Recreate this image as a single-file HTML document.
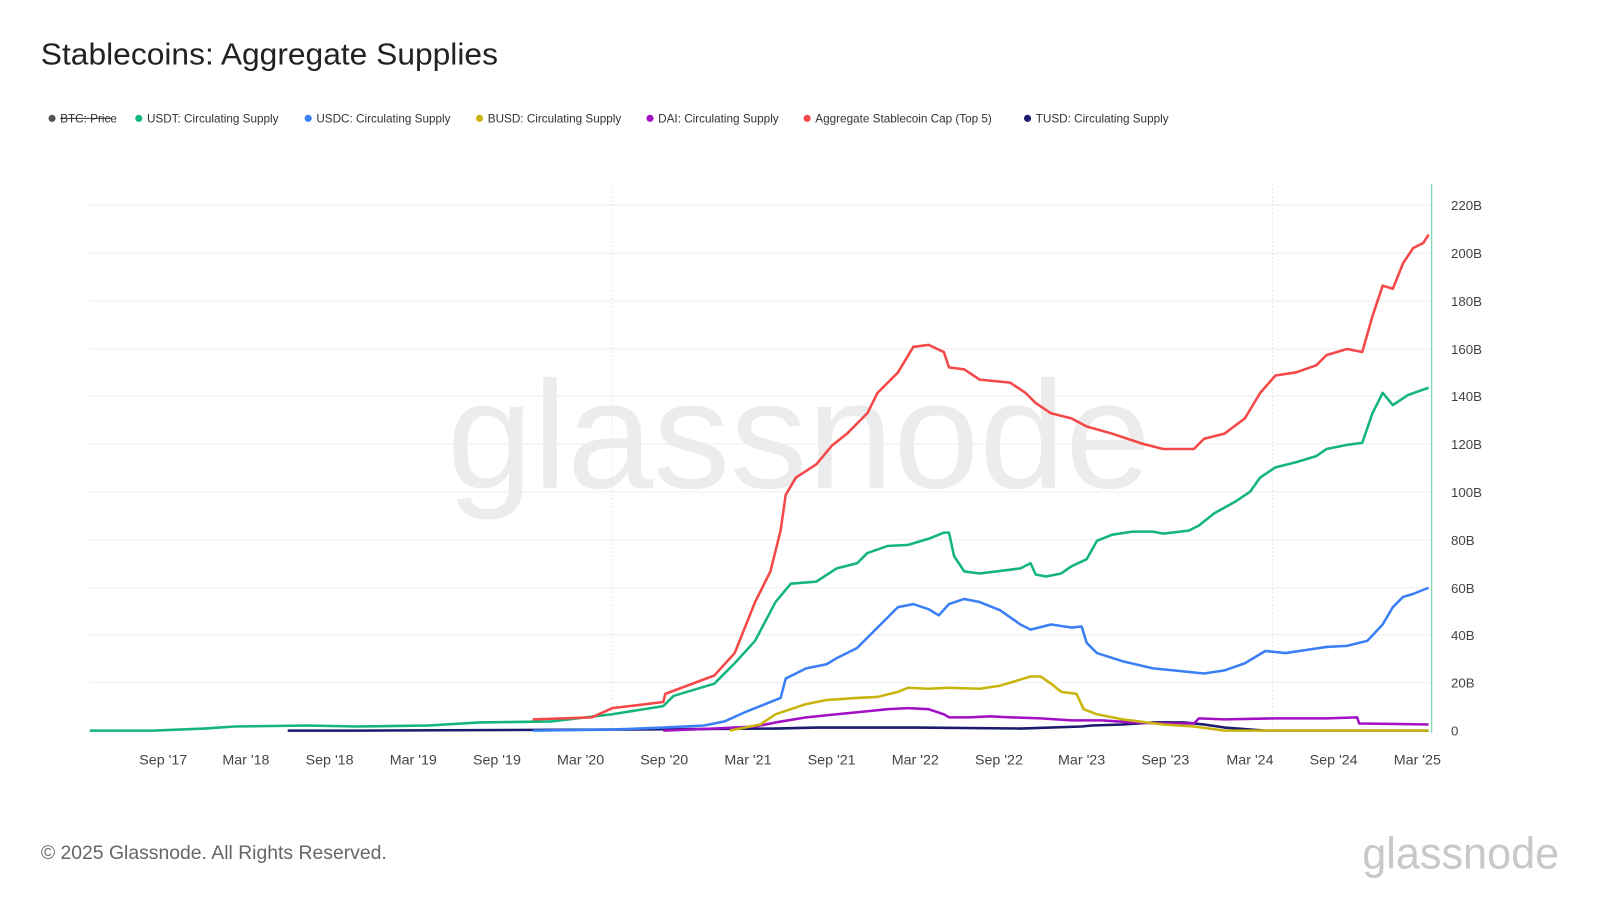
<!DOCTYPE html>
<html><head><meta charset="utf-8"><style>
body{margin:0;background:#fff;width:1600px;height:900px;overflow:hidden;font-family:"Liberation Sans",sans-serif}
svg{position:absolute;left:0;top:0}
</style></head><body>
<svg width="1600" height="900" xmlns="http://www.w3.org/2000/svg" font-family="Liberation Sans, sans-serif">
<g transform="scale(1.0204)">
<text x="40" y="63" font-size="30" fill="#222" textLength="448" lengthAdjust="spacingAndGlyphs">Stablecoins: Aggregate Supplies</text>
<g font-size="11.5" fill="#333">
<circle cx="51" cy="116" r="3.5" fill="#555"/><text x="59" y="120">BTC: Price</text><line x1="59" y1="116" x2="109" y2="116" stroke="#333"/>
<circle cx="136" cy="116" r="3.5" fill="#13b57a"/><text x="144" y="120">USDT: Circulating Supply</text>
<circle cx="302" cy="116" r="3.5" fill="#3a7ff5"/><text x="310" y="120">USDC: Circulating Supply</text>
<circle cx="470" cy="116" r="3.5" fill="#c9b40c"/><text x="478" y="120">BUSD: Circulating Supply</text>
<circle cx="637" cy="116" r="3.5" fill="#a20fc4"/><text x="645" y="120">DAI: Circulating Supply</text>
<circle cx="791" cy="116" r="3.5" fill="#f54848"/><text x="799" y="120">Aggregate Stablecoin Cap (Top 5)</text>
<circle cx="1007" cy="116" r="3.5" fill="#1a1a6e"/><text x="1015" y="120">TUSD: Circulating Supply</text>
</g>
<g stroke="#eeeeee" stroke-width="1">
<line x1="88" y1="201" x2="1403" y2="201"/><line x1="88" y1="248" x2="1403" y2="248"/><line x1="88" y1="295" x2="1403" y2="295"/><line x1="88" y1="342" x2="1403" y2="342"/><line x1="88" y1="388" x2="1403" y2="388"/><line x1="88" y1="435" x2="1403" y2="435"/><line x1="88" y1="482" x2="1403" y2="482"/><line x1="88" y1="529" x2="1403" y2="529"/><line x1="88" y1="576" x2="1403" y2="576"/><line x1="88" y1="622" x2="1403" y2="622"/><line x1="88" y1="669" x2="1403" y2="669"/>
</g>
<g stroke="#e4e4e4" stroke-dasharray="2,2"><line x1="600" y1="180" x2="600" y2="716"/><line x1="1247" y1="180" x2="1247" y2="716"/></g>
<line x1="1403" y1="180" x2="1403" y2="718" stroke="#7fd9b5" stroke-width="1.2"/>
<text x="783" y="478" font-size="150" fill="#ececec" text-anchor="middle" textLength="690" lengthAdjust="spacingAndGlyphs">glassnode</text>
<g font-size="13" fill="#444">
<text x="1422" y="206">220B</text><text x="1422" y="253">200B</text><text x="1422" y="300">180B</text><text x="1422" y="347">160B</text><text x="1422" y="393">140B</text><text x="1422" y="440">120B</text><text x="1422" y="487">100B</text><text x="1422" y="534">80B</text><text x="1422" y="581">60B</text><text x="1422" y="627">40B</text><text x="1422" y="674">20B</text><text x="1422" y="721">0</text>
</g>
<g font-size="14" fill="#444" text-anchor="middle">
<text x="160" y="749">Sep '17</text><text x="241" y="749">Mar '18</text><text x="323" y="749">Sep '18</text><text x="405" y="749">Mar '19</text><text x="487" y="749">Sep '19</text><text x="569" y="749">Mar '20</text><text x="651" y="749">Sep '20</text><text x="733" y="749">Mar '21</text><text x="815" y="749">Sep '21</text><text x="897" y="749">Mar '22</text><text x="979" y="749">Sep '22</text><text x="1060" y="749">Mar '23</text><text x="1142" y="749">Sep '23</text><text x="1225" y="749">Mar '24</text><text x="1307" y="749">Sep '24</text><text x="1389" y="749">Mar '25</text>
</g>
<g fill="none" stroke-width="2.5" stroke-linejoin="round">
<polyline stroke="#1a1a6e" points="282,716 350,716 600,715 760,714 800,713 900,713 1000,714 1060,712 1070,711 1100,710 1130,708 1160,708 1180,710 1200,713 1240,716 1400,716"/>
<polyline stroke="#a20fc4" points="650,716 700,714 740,712 760,708 790,703 820,700 850,697 870,695 890,694 910,695 925,700 930,703 950,703 970,702 990,703 1020,704 1050,706 1080,706 1110,708 1140,709 1170,709 1175,704 1200,705 1250,704 1300,704 1330,703 1332,709 1400,710"/>
<polyline stroke="#c9b40c" points="715,716 745,710 760,700 790,690 810,686 840,684 860,683 880,678 890,674 910,675 930,674 960,675 980,672 1000,666 1010,663 1020,663 1030,670 1040,678 1055,680 1062,695 1075,700 1100,705 1140,710 1170,712 1200,716 1400,716"/>
<polyline stroke="#3a7ff5" points="522,716 600,715 650,713 690,711 710,707 730,698 750,690 765,684 770,665 790,655 810,651 820,645 840,635 855,620 870,605 880,595 895,592 910,597 920,603 930,592 945,587 960,590 980,598 1000,612 1010,617 1030,612 1050,615 1060,614 1065,630 1075,640 1100,648 1130,655 1150,657 1180,660 1200,657 1220,650 1240,638 1260,640 1280,637 1300,634 1320,633 1340,628 1355,612 1365,595 1375,585 1385,582 1400,576"/>
<polyline stroke="#13b57a" points="88,716 150,716 200,714 230,712 300,711 350,712 420,711 470,708 540,707 600,700 650,692 660,682 700,670 720,650 740,628 760,590 775,572 800,570 820,557 840,552 850,542 870,535 890,534 910,528 925,522 930,522 935,545 945,560 960,562 1000,557 1010,552 1015,563 1025,565 1040,562 1050,555 1065,548 1075,530 1090,524 1110,521 1130,521 1140,523 1165,520 1175,515 1190,503 1210,492 1225,482 1235,468 1250,458 1270,453 1290,447 1300,440 1320,436 1335,434 1345,405 1355,385 1365,397 1380,387 1400,380"/>
<polyline stroke="#f54848" points="522,705 580,703 600,694 650,688 652,680 700,662 720,640 740,590 755,560 765,520 770,485 780,468 800,455 815,437 830,425 850,405 860,385 870,375 880,365 895,340 910,338 925,345 930,360 945,362 960,372 990,375 1005,385 1015,395 1030,405 1050,410 1065,418 1090,425 1120,435 1140,440 1170,440 1180,430 1200,425 1220,410 1235,385 1250,368 1270,365 1290,358 1300,348 1320,342 1335,345 1345,310 1355,280 1365,283 1375,258 1385,243 1395,238 1400,230"/>
</g>
<text x="40" y="842" font-size="19" fill="#666">© 2025 Glassnode. All Rights Reserved.</text>
<text x="1528" y="851" font-size="44" fill="#c8c8c8" text-anchor="end" textLength="193" lengthAdjust="spacingAndGlyphs">glassnode</text>
</g>
</svg>
</body></html>
